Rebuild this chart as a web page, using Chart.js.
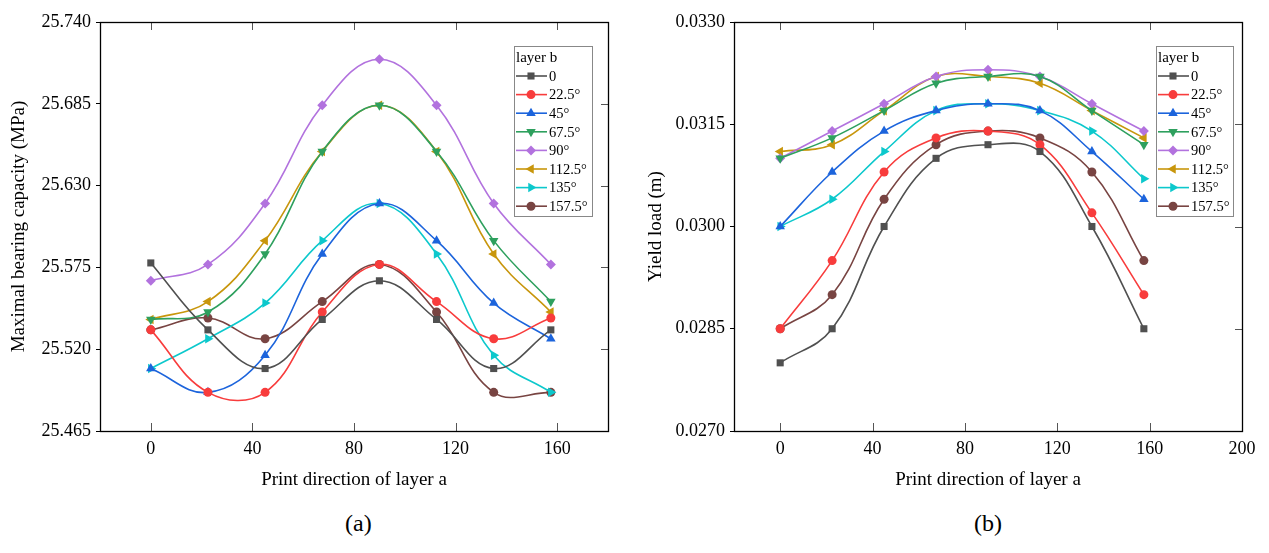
<!DOCTYPE html>
<html><head><meta charset="utf-8">
<script src="https://cdn.jsdelivr.net/npm/chart.js@4.4.1/dist/chart.umd.min.js"></script>
<style>
body{margin:0;background:#fff;width:1269px;height:553px;overflow:hidden;position:relative;font-family:"Liberation Serif","Times New Roman",serif;}
.box{position:absolute;top:0;width:634px;height:500px;}
.cap{position:absolute;top:510px;font-size:24px;color:#000;}
</style></head><body>
<div class="box" style="left:0"><canvas id="ca" width="634" height="500"></canvas></div>
<div class="box" style="left:634px"><canvas id="cb" width="634" height="500"></canvas></div>
<div class="cap" style="left:345px">(a)</div>
<div class="cap" style="left:974px">(b)</div>
<script>
// ---- data ----
const printDirA = [0, 22.5, 45, 67.5, 90, 112.5, 135, 157.5];
const layerB = ['0', '22.5°', '45°', '67.5°', '90°', '112.5°', '135°', '157.5°'];

const bearing_0    = [25.578, 25.533, 25.507, 25.540, 25.566, 25.540, 25.507, 25.533];
const bearing_22_5 = [25.533, 25.491, 25.491, 25.545, 25.577, 25.552, 25.527, 25.541];
const bearing_45   = [25.507, 25.491, 25.516, 25.584, 25.618, 25.593, 25.551, 25.527];
const bearing_67_5 = [25.540, 25.545, 25.584, 25.653, 25.684, 25.653, 25.593, 25.552];
const bearing_90   = [25.566, 25.577, 25.618, 25.684, 25.715, 25.684, 25.618, 25.577];
const bearing_112_5= [25.540, 25.552, 25.593, 25.653, 25.684, 25.653, 25.584, 25.545];
const bearing_135  = [25.507, 25.527, 25.551, 25.593, 25.618, 25.584, 25.516, 25.491];
const bearing_157_5= [25.533, 25.541, 25.527, 25.552, 25.577, 25.545, 25.491, 25.491];

const yield_0    = [0.0280, 0.0285, 0.0300, 0.0310, 0.0312, 0.0311, 0.0300, 0.0285];
const yield_22_5 = [0.0285, 0.0295, 0.0308, 0.0313, 0.0314, 0.0312, 0.0302, 0.0290];
const yield_45   = [0.0300, 0.0308, 0.0314, 0.0317, 0.0318, 0.0317, 0.0311, 0.0304];
const yield_67_5 = [0.0310, 0.0313, 0.0317, 0.0321, 0.0322, 0.0322, 0.0317, 0.0312];
const yield_90   = [0.0310, 0.0314, 0.0318, 0.0322, 0.0323, 0.0322, 0.0318, 0.0314];
const yield_112_5= [0.0311, 0.0312, 0.0317, 0.0322, 0.0322, 0.0321, 0.0317, 0.0313];
const yield_135  = [0.0300, 0.0304, 0.0311, 0.0317, 0.0318, 0.0317, 0.0314, 0.0307];
const yield_157_5= [0.0285, 0.0290, 0.0304, 0.0312, 0.0314, 0.0313, 0.0308, 0.0295];

const xTicksA = [0, 40, 80, 120, 160];
const xTicksB = [0, 40, 80, 120, 160, 200];
const yTicksA = [25.465, 25.520, 25.575, 25.630, 25.685, 25.740];
const yTicksB = [0.0270, 0.0285, 0.0300, 0.0315, 0.0330];

// ---- styles ----
const FONT = '"Liberation Serif","Times New Roman",serif';
const colors = ['#505050', '#f83c3c', '#1c64dc', '#2ea05e', '#b272de', '#c8960c', '#0cc8cc', '#784442'];
const pStyles = ['rect', 'circle', 'triangle', 'triangle', 'rectRot', 'triangle', 'triangle', 'circle'];
const pRot = [0, 0, 0, 180, 0, -90, 90, 0];
const pRad = [5, 4.5, 5.5, 5.5, 5, 5.5, 5.5, 4.5];

function makeDatasets(seriesList) {
  return seriesList.map((vals, i) => ({
    label: layerB[i],
    data: printDirA.map((x, j) => ({x: x, y: vals[j]})),
    borderColor: colors[i],
    backgroundColor: colors[i],
    borderWidth: 1.6,
    pointStyle: pStyles[i],
    pointRotation: pRot[i],
    pointRadius: pRad[i],
    pointBorderWidth: 0,
    tension: 0.4,
    fill: false
  }));
}

function drawMarker(ctx, i, x, y) {
  ctx.save();
  ctx.fillStyle = colors[i];
  ctx.strokeStyle = colors[i];
  if (Chart.helpers && Chart.helpers.drawPoint) {
    Chart.helpers.drawPoint(ctx, {pointStyle: pStyles[i], rotation: pRot[i], radius: pRad[i], borderWidth: 0}, x, y);
  } else {
    ctx.beginPath(); ctx.arc(x, y, pRad[i], 0, Math.PI * 2); ctx.fill();
  }
  ctx.restore();
}

const framePlugin = {
  id: 'frame',
  afterDraw(chart, args, opts) {
    const ctx = chart.ctx, a = chart.chartArea;
    const xs = chart.scales.x, ys = chart.scales.y;
    ctx.save();
    ctx.strokeStyle = '#555';
    ctx.lineWidth = 1;
    ctx.beginPath();
    xs.ticks.forEach(t => {
      const px = Math.round(xs.getPixelForValue(t.value)) + 0.5;
      ctx.moveTo(px, a.top); ctx.lineTo(px, a.top + 8);
      ctx.moveTo(px, a.bottom); ctx.lineTo(px, a.bottom - 8);
    });
    ys.ticks.forEach(t => {
      const py = Math.round(ys.getPixelForValue(t.value)) + 0.5;
      ctx.moveTo(a.right, py); ctx.lineTo(a.right - 7, py);
    });
    ctx.stroke();
    ctx.strokeStyle = '#000';
    ctx.lineWidth = 1.3;
    ctx.strokeRect(Math.round(a.left) + 0.5, Math.round(a.top) + 0.5, Math.round(a.right - a.left), Math.round(a.bottom - a.top));
    const L = opts.box;
    ctx.fillStyle = '#fff';
    ctx.fillRect(L.x, L.y, L.w, L.h);
    ctx.strokeStyle = '#888';
    ctx.lineWidth = 1;
    ctx.strokeRect(L.x + 0.5, L.y + 0.5, L.w, L.h);
    ctx.fillStyle = '#000';
    ctx.textBaseline = 'middle';
    ctx.textAlign = 'left';
    ctx.font = '15px ' + FONT;
    ctx.fillText('layer b', L.x + 2, L.y + 12);
    ctx.font = '14.5px ' + FONT;
    chart.data.datasets.forEach((ds, i) => {
      const yy = L.y + 30 + i * 18.6;
      ctx.strokeStyle = colors[i];
      ctx.lineWidth = 1.6;
      ctx.beginPath();
      ctx.moveTo(L.x + 2, yy); ctx.lineTo(L.x + 33, yy);
      ctx.stroke();
      drawMarker(ctx, i, L.x + 17, yy);
      ctx.fillStyle = '#000';
      ctx.fillText(ds.label, L.x + 35, yy + 1);
    });
    ctx.restore();
  }
};

function makeChart(id, seriesList, xTicks, yTicks, dec, xmin, xmax, yTitle, box, yTitlePad) {
  return new Chart(document.getElementById(id), {
    type: 'line',
    data: {datasets: makeDatasets(seriesList)},
    plugins: [framePlugin],
    options: {
      responsive: false,
      animation: false,
      devicePixelRatio: 1,
      layout: {padding: {left: 0, top: 22, right: 26, bottom: 0}},
      plugins: {legend: {display: false}, tooltip: {enabled: false}, frame: {box: box}},
      scales: {
        x: {
          type: 'linear', min: xmin, max: xmax,
          afterBuildTicks: s => { s.ticks = xTicks.map(v => ({value: v})); },
          afterFit: s => { s.height = 69; },
          ticks: {color: '#000', font: {family: FONT, size: 18}, padding: 7, maxRotation: 0, autoSkip: false, callback: v => String(v)},
          grid: {display: false, drawTicks: false},
          border: {display: false},
          title: {display: true, text: 'Print direction of layer a', color: '#000', font: {family: FONT, size: 19}, padding: {top: 4, bottom: 9}}
        },
        y: {
          type: 'linear', min: yTicks[0], max: yTicks[yTicks.length - 1],
          afterBuildTicks: s => { s.ticks = yTicks.map(v => ({value: v})); },
          afterFit: s => { s.width = 100; },
          ticks: {color: '#000', font: {family: FONT, size: 18}, padding: 5, autoSkip: false, callback: v => Number(v).toFixed(dec)},
          grid: {display: true, drawOnChartArea: false, drawTicks: true, tickLength: 4, color: '#000', lineWidth: 1},
          border: {display: false},
          title: {display: true, text: yTitle, color: '#000', font: {family: FONT, size: 19}, padding: {top: yTitlePad, bottom: 0}}
        }
      }
    }
  });
}

makeChart('ca',
  [bearing_0, bearing_22_5, bearing_45, bearing_67_5, bearing_90, bearing_112_5, bearing_135, bearing_157_5],
  xTicksA, yTicksA, 3, -20, 180, 'Maximal bearing capacity (MPa)', {x: 514, y: 46, w: 78, h: 170}, 8);
makeChart('cb',
  [yield_0, yield_22_5, yield_45, yield_67_5, yield_90, yield_112_5, yield_135, yield_157_5],
  xTicksB, yTicksB, 4, -20, 200, 'Yield load (m)', {x: 522, y: 46, w: 77, h: 170}, 11);
</script>
</body></html>
